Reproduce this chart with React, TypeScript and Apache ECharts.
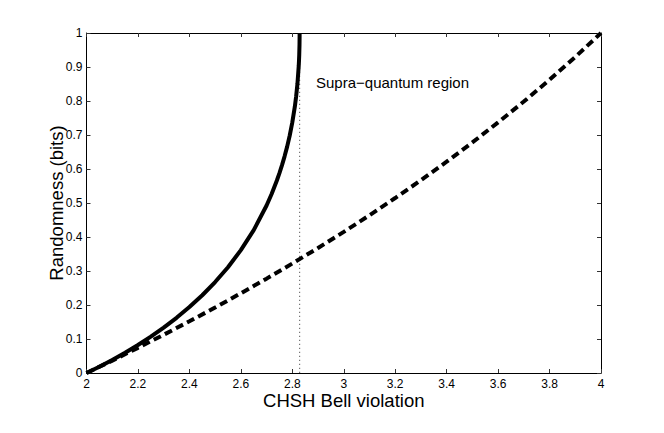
import React, { useEffect, useRef } from "react";
import * as echarts from "echarts";

// Tight (quantum) bound: x = CHSH value, y = randomness (bits)
const solidX = [2.0, 2.05, 2.1, 2.15, 2.2, 2.25, 2.3, 2.35, 2.4, 2.45, 2.5, 2.55, 2.6, 2.65, 2.7, 2.72, 2.74, 2.75, 2.76, 2.77, 2.78, 2.79, 2.8, 2.81, 2.815, 2.82, 2.825, 2.826, 2.827, 2.828, 2.8284, 2.82843];
const solidY = [0, 0.0185, 0.0384, 0.0597, 0.0825, 0.1069, 0.1336, 0.1623, 0.1939, 0.2287, 0.2675, 0.3112, 0.3614, 0.4204, 0.4927, 0.5272, 0.5661, 0.5878, 0.6113, 0.6372, 0.6658, 0.6985, 0.737, 0.784, 0.814, 0.8506, 0.903, 0.9179, 0.9366, 0.965, 0.991, 1.0];

// Weaker (no-signalling) bound
const dashedX = [2.0, 2.1, 2.2, 2.3, 2.4, 2.5, 2.6, 2.7, 2.8, 2.9, 3.0, 3.1, 3.2, 3.3, 3.4, 3.5, 3.6, 3.7, 3.8, 3.9, 4.0];
const dashedY = [0, 0.0365, 0.074, 0.1125, 0.152, 0.1926, 0.2345, 0.2775, 0.322, 0.3677, 0.415, 0.4639, 0.5146, 0.567, 0.6215, 0.6781, 0.737, 0.7984, 0.8625, 0.9296, 1.0];

// Tsirelson bound marker
const boundX = [2.8284, 2.8284];
const boundY = [0, 1];

const xTicks = { min: 2, max: 4, interval: 0.2 };
const yTicks = { min: 0, max: 1, interval: 0.1 };

const FONT = "'Liberation Sans', Arial, Helvetica, sans-serif";

export default function App() {
  const ref = useRef<HTMLDivElement>(null);

  useEffect(() => {
    if (!ref.current) return;
    const chart = echarts.init(ref.current, null, { renderer: "svg" });

    const zip = (xs: number[], ys: number[]) => xs.map((x, i) => [x, ys[i]]);

    const axisCommon = {
      type: "value" as const,
      axisLine: { show: true, onZero: false, lineStyle: { color: "#000", width: 1 } },
      axisTick: { show: true, inside: true, length: 4, lineStyle: { color: "#333", width: 1 } },
      splitLine: { show: false },
    };

    chart.setOption({
      animation: false,
      backgroundColor: "#fff",
      grid: { left: 86.5, right: 63, top: 33, bottom: 60, containLabel: false },
      xAxis: [
        {
          ...axisCommon,
          ...xTicks,
          position: "bottom",
          name: "CHSH Bell violation",
          nameLocation: "middle",
          nameGap: 18,
          nameMoveOverlap: false,
          nameTextStyle: { fontFamily: FONT, fontSize: 18.5, color: "#000", verticalAlign: "top" },
          axisLabel: { fontFamily: FONT, fontSize: 12, color: "#000", margin: 5 },
        },
        {
          ...axisCommon,
          ...xTicks,
          position: "top",
          axisLabel: { show: false },
        },
      ],
      yAxis: [
        {
          ...axisCommon,
          ...yTicks,
          position: "left",
          name: "Randomness (bits)",
          nameLocation: "middle",
          nameGap: 21,
          nameRotate: 90,
          nameMoveOverlap: false,
          nameTextStyle: { fontFamily: FONT, fontSize: 18.5, color: "#000" },
          axisLabel: { fontFamily: FONT, fontSize: 12, color: "#000", margin: 4 },
        },
        {
          ...axisCommon,
          ...yTicks,
          position: "right",
          axisLabel: { show: false },
        },
      ],
      series: [
        {
          type: "line",
          data: zip(boundX, boundY),
          showSymbol: false,
          symbol: "none",
          lineStyle: { color: "#777", width: 1.2, type: [1.3, 2.7] },
          z: 1,
        },
        {
          type: "line",
          data: zip(dashedX, dashedY),
          showSymbol: false,
          symbol: "none",
          lineStyle: { color: "#000", width: 4, type: [8, 4.5] },
          z: 2,
        },
        {
          type: "line",
          data: zip(solidX, solidY),
          showSymbol: false,
          symbol: "none",
          lineStyle: { color: "#000", width: 4 },
          z: 3,
        },
      ],
      graphic: [
        {
          type: "text",
          left: 316,
          top: 75,
          style: {
            text: "Supra\u2212quantum region",
            fontFamily: FONT,
            fontSize: 15,
            fill: "#000",
          },
        },
      ],
    });

    return () => chart.dispose();
  }, []);

  return <div ref={ref} style={{ width: 664, height: 433, margin: -8 }} />;
}
